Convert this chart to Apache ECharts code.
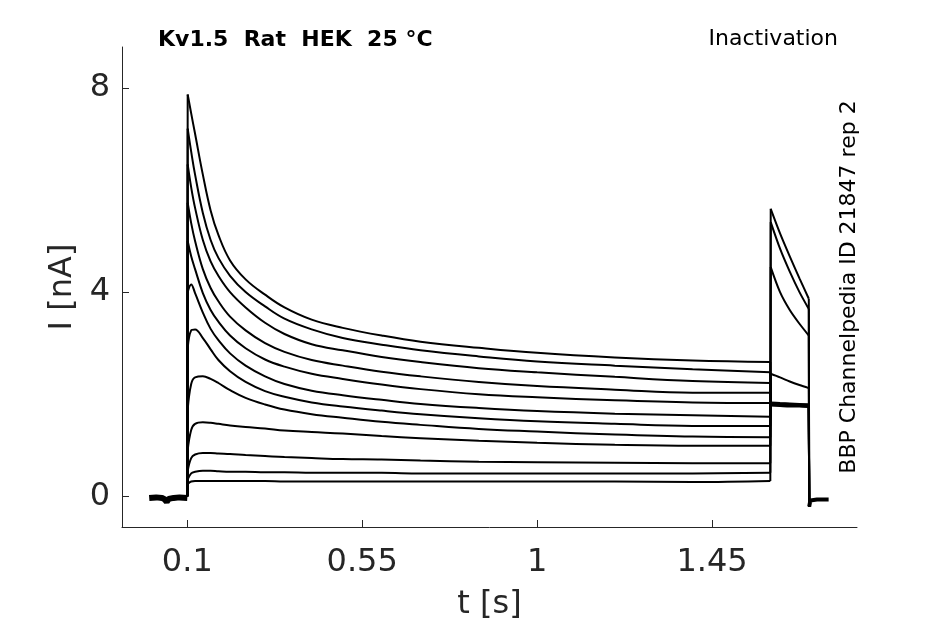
<!DOCTYPE html>
<html lang="en">
<head>
    <meta charset="UTF-8">
    <title>Kv1.5 Inactivation</title>
    <script type="text/javascript" src="https://cdn.jsdelivr.net/npm/echarts@6/dist/echarts.min.js"></script>
    <style>
        html, body { margin: 0; padding: 0; background: #fff; }
        #chart { width: 945px; height: 624px; }
    </style>
</head>
<body>
<div id="chart"></div>
<script type="text/javascript">

    // sample times (s) for the prepulse + test pulse part of every sweep
    var tSweep = [0.1, 0.101, 0.11, 0.12, 0.14, 0.16, 0.18, 0.21, 0.25, 0.3, 0.35, 0.42, 0.5,
                  0.6, 0.7, 0.85, 1.0, 1.2, 1.4, 1.6, 1.601, 1.625, 1.65, 1.675, 1.699];

    // current (nA) of each sweep at tSweep
    var sweep1  = [0, 7.87, 7.5, 7.1, 6.3, 5.6, 5.12, 4.62, 4.25, 3.95, 3.7, 3.46, 3.3, 3.15, 3.03, 2.91, 2.81, 2.72, 2.66, 2.63, 1.84, 1.83, 1.82, 1.81, 1.80];
    var sweep2  = [0, 7.2, 6.75, 6.3, 5.55, 5.02, 4.67, 4.32, 4.0, 3.72, 3.48, 3.27, 3.1, 2.97, 2.86, 2.74, 2.64, 2.56, 2.49, 2.43, 1.82, 1.81, 1.80, 1.79, 1.79];
    var sweep3  = [0, 6.5, 6.05, 5.65, 5.02, 4.6, 4.32, 4.0, 3.7, 3.4, 3.18, 2.98, 2.86, 2.73, 2.63, 2.51, 2.43, 2.34, 2.26, 2.22, 1.81, 1.80, 1.79, 1.78, 1.78];
    var sweep4  = [0, 5.75, 5.35, 5.0, 4.45, 4.08, 3.82, 3.52, 3.25, 3.0, 2.83, 2.67, 2.56, 2.44, 2.35, 2.24, 2.16, 2.09, 2.03, 2.03, 1.80, 1.79, 1.78, 1.77, 1.77];
    var sweep5  = [0, 5.0, 4.7, 4.45, 3.98, 3.65, 3.42, 3.15, 2.9, 2.68, 2.54, 2.4, 2.3, 2.19, 2.1, 2.0, 1.94, 1.88, 1.84, 1.83, 1.79, 1.78, 1.77, 1.77, 1.76];
    var sweep6  = [0, 4.0, 4.15, 3.98, 3.6, 3.28, 3.06, 2.8, 2.56, 2.35, 2.2, 2.07, 1.98, 1.89, 1.81, 1.73, 1.67, 1.62, 1.59, 1.56, 1.82, 1.81, 1.80, 1.80, 1.79];
    var sweep7  = [0, 2.9, 3.25, 3.27, 3.1, 2.88, 2.67, 2.45, 2.24, 2.06, 1.95, 1.84, 1.76, 1.68, 1.61, 1.53, 1.47, 1.42, 1.38, 1.38, 1.78, 1.77, 1.76, 1.76, 1.75];
    var sweep8  = [0, 1.7, 2.2, 2.33, 2.35, 2.3, 2.22, 2.08, 1.93, 1.8, 1.7, 1.61, 1.54, 1.46, 1.4, 1.32, 1.27, 1.21, 1.17, 1.16, 1.83, 1.82, 1.81, 1.80, 1.80];
    var sweep9  = [0, 0.9, 1.3, 1.42, 1.45, 1.44, 1.42, 1.39, 1.36, 1.33, 1.29, 1.26, 1.23, 1.18, 1.14, 1.09, 1.05, 1.01, 0.99, 0.99, 2.40, 2.33, 2.25, 2.18, 2.12];
    var sweep10 = [0, 0.5, 0.75, 0.82, 0.85, 0.85, 0.84, 0.83, 0.81, 0.79, 0.77, 0.75, 0.73, 0.72, 0.7, 0.68, 0.67, 0.66, 0.65, 0.65, 4.49, 4.0, 3.65, 3.38, 3.15];
    var sweep11 = [0, 0.33, 0.45, 0.48, 0.5, 0.5, 0.49, 0.48, 0.48, 0.47, 0.47, 0.46, 0.46, 0.46, 0.45, 0.45, 0.45, 0.45, 0.45, 0.46, 5.37, 4.85, 4.4, 4.0, 3.67];
    var sweep12 = [0, 0.24, 0.29, 0.3, 0.3, 0.3, 0.3, 0.3, 0.3, 0.3, 0.29, 0.29, 0.29, 0.29, 0.29, 0.29, 0.29, 0.29, 0.28, 0.3, 5.63, 5.15, 4.7, 4.27, 3.87];

    // holding current before the prepulse (shared by all sweeps)
    var tBase = [0.002, 0.02, 0.035, 0.042, 0.047, 0.052, 0.065, 0.08, 0.1];
    var iBase = [-0.03, -0.02, -0.03, -0.06, -0.11, -0.05, -0.03, -0.02, -0.03];

    // tail after the test pulse
    var tTail = [1.7, 1.703, 1.72, 1.75];
    var iTail = [-0.2, -0.08, -0.06, -0.06];

    var xTicks = [0.1, 0.55, 1, 1.45];
    var yTicks = [0, 4, 8];

    var sweeps = [sweep1, sweep2, sweep3, sweep4, sweep5, sweep6,
                  sweep7, sweep8, sweep9, sweep10, sweep11, sweep12];

    // index ranges in tSweep: prepulse 1..19, test pulse 20..24
    var PRE_FROM = 1, PRE_TO = 19, TEST_FROM = 20, TEST_TO = 24;

    function pairs(ts, vs, from, to) {
        var out = [];
        for (var i = from; i <= to; i++) out.push([ts[i], vs[i]]);
        return out;
    }

    var axisColor = '#262626';
    var font = 'DejaVu Sans';
    var trace = { color: '#000', width: 2 };

    var series = [];
    sweeps.forEach(function (s) {
        // smooth decaying parts
        series.push({
            type: 'line', data: pairs(tSweep, s, PRE_FROM, PRE_TO),
            showSymbol: false, silent: true, smooth: 0.4, lineStyle: trace
        });
        series.push({
            type: 'line', data: pairs(tSweep, s, TEST_FROM, TEST_TO),
            showSymbol: false, silent: true, smooth: 0.3, lineStyle: trace
        });
        // straight voltage steps
        series.push({
            type: 'line',
            data: [[tSweep[0], s[0]], [tSweep[1], s[1]], null,
                   [tSweep[PRE_TO], s[PRE_TO]], [tSweep[TEST_FROM], s[TEST_FROM]], null,
                   [tSweep[TEST_TO], s[TEST_TO]], [tTail[0], iTail[0]]],
            connectNulls: false,
            showSymbol: false, silent: true, lineStyle: trace
        });
    });
    series.push({
        type: 'line', data: pairs(tBase, iBase, 0, tBase.length - 1), showSymbol: false, silent: true,
        lineStyle: { color: '#000', width: 6 }
    });
    series.push({
        type: 'line', data: pairs(tTail, iTail, 0, tTail.length - 1), showSymbol: false, silent: true,
        lineStyle: { color: '#000', width: 4 }
    });

    var myChart = echarts.init(document.getElementById('chart'));
    var option = {
        animation: false,
        backgroundColor: '#fff',
        grid: { left: 122, right: 88, top: 47, bottom: 97, outerBoundsMode: 'none' },
        xAxis: {
            type: 'value',
            min: -0.068,
            max: 1.823,
            name: 't [s]',
            nameLocation: 'middle',
            nameGap: 62,
            nameTextStyle: { fontFamily: font, fontSize: 32, color: axisColor },
            axisLine: { show: true, onZero: false, lineStyle: { color: axisColor, width: 1 } },
            axisTick: { show: true, inside: true, length: 7, customValues: xTicks,
                        lineStyle: { color: axisColor } },
            axisLabel: { customValues: xTicks, fontFamily: font, fontSize: 32, color: axisColor,
                         margin: 20 },
            splitLine: { show: false }
        },
        yAxis: {
            type: 'value',
            min: -0.6,
            max: 8.8,
            name: 'I [nA]',
            nameLocation: 'middle',
            nameGap: 39,
            nameRotate: 90,
            nameTextStyle: { fontFamily: font, fontSize: 32, color: axisColor },
            axisLine: { show: true, onZero: false, lineStyle: { color: axisColor, width: 1 } },
            axisTick: { show: true, inside: true, length: 7, customValues: yTicks,
                        lineStyle: { color: axisColor } },
            axisLabel: { customValues: yTicks, fontFamily: font, fontSize: 32, color: axisColor,
                         margin: 12 },
            splitLine: { show: false }
        },
        graphic: [
            {
                type: 'text',
                style: { text: 'Kv1.5  Rat  HEK  25 °C', x: 158, y: 40, align: 'left',
                         verticalAlign: 'middle', fontFamily: font, fontWeight: 'bold',
                         fontSize: 22, fill: '#000' }
            },
            {
                type: 'text',
                style: { text: 'Inactivation', x: 838, y: 39, align: 'right',
                         verticalAlign: 'middle', fontFamily: font, fontSize: 22, fill: '#000' }
            },
            {
                type: 'text',
                x: 849, y: 287, rotation: Math.PI / 2,
                style: { text: 'BBP Channelpedia ID 21847 rep 2', x: 0, y: 0, align: 'center',
                         verticalAlign: 'middle', fontFamily: font, fontSize: 22, fill: '#000' }
            }
        ],
        series: series
    };
    myChart.setOption(option);

</script>
</body>
</html>
